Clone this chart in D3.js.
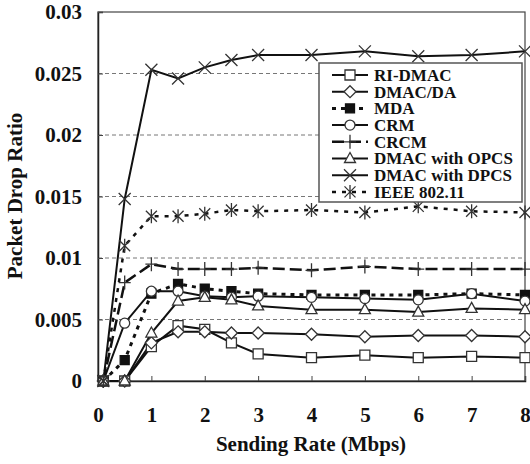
<!DOCTYPE html>
<html><head><meta charset="utf-8">
<script src="https://cdn.jsdelivr.net/npm/d3@7"></script>
<style>
body{margin:0;background:#fff}
svg{display:block}
</style>
</head><body><div id="chart"></div>
<script>
// sending rate (Mbps)
const rates = [0.1, 0.5, 1, 1.5, 2, 2.5, 3, 4, 5, 6, 7, 8];

// packet drop ratio per protocol
const riDmac = [0, 0, 0.0028, 0.0045, 0.0042, 0.0031, 0.0022, 0.0019, 0.0021, 0.0019, 0.0020, 0.0019];
const dmacDa = [0, 0, 0.0031, 0.0040, 0.0040, 0.0039, 0.0039, 0.0038, 0.0036, 0.0037, 0.0037, 0.0036];
const mda    = [0, 0.0017, 0.0071, 0.0079, 0.0075, 0.0073, 0.0071, 0.0070, 0.0070, 0.0070, 0.0071, 0.0070];
const crm    = [0, 0.0047, 0.0073, 0.0073, 0.0069, 0.0068, 0.0069, 0.0068, 0.0067, 0.0066, 0.0071, 0.0065];
const crcm   = [0, 0.0080, 0.0095, 0.0091, 0.0091, 0.0091, 0.0092, 0.0090, 0.0093, 0.0091, 0.0091, 0.0091];
const opcs   = [0, 0, 0.0039, 0.0065, 0.0068, 0.0066, 0.0061, 0.0058, 0.0058, 0.0056, 0.0059, 0.0058];
const dpcs   = [0, 0.0148, 0.0253, 0.0246, 0.0255, 0.0261, 0.0265, 0.0265, 0.0268, 0.0264, 0.0265, 0.0268];
const ieee   = [0, 0.0110, 0.0134, 0.0134, 0.0136, 0.0139, 0.0138, 0.0139, 0.0137, 0.0142, 0.0138, 0.0137];

const xTicks = [0, 1, 2, 3, 4, 5, 6, 7, 8];
const yTicks = [0, 0.005, 0.01, 0.015, 0.02, 0.025, 0.03];
const yTickLabels = ["0", "0.005", "0.01", "0.015", "0.02", "0.025", "0.03"];

const series = [
    {name: "RI-DMAC", values: riDmac, marker: "square", dash: null, lw: 2},
    {name: "DMAC/DA", values: dmacDa, marker: "diamond", dash: null, lw: 2},
    {name: "MDA", values: mda, marker: "fsquare", dash: "4,5", lw: 3},
    {name: "CRM", values: crm, marker: "circle", dash: null, lw: 2},
    {name: "CRCM", values: crcm, marker: "plus", dash: "12,5", lw: 2.5},
    {name: "DMAC with OPCS", values: opcs, marker: "triangle", dash: null, lw: 2},
    {name: "DMAC with DPCS", values: dpcs, marker: "x", dash: null, lw: 2},
    {name: "IEEE 802.11", values: ieee, marker: "asterisk", dash: "4,6", lw: 2.5}
];

const FONT = '"Liberation Serif"';

const w = 530, h = 464;
const margin = {top: 12, right: 5, bottom: 83, left: 98};
const iw = w - margin.left - margin.right;
const ih = h - margin.top - margin.bottom;

const x = d3.scaleLinear().domain([0, 8]).range([0, iw]);
const y = d3.scaleLinear().domain([0, 0.03]).range([ih, 0]);

const markerPath = {
    square: "M-5,-5h10v10h-10Z",
    fsquare: "M-4.5,-4.5h9v9h-9Z",
    diamond: "M0,-6L6,0L0,6L-6,0Z",
    triangle: "M0,-6L5.5,4L-5.5,4Z",
    x: "M-6,-6L6,6M-6,6L6,-6",
    plus: "M-6,0H6M0,-7V7",
    asterisk: "M-5.5,-5.5L5.5,5.5M-5.5,5.5L5.5,-5.5M0,-7V7"
};

const drawMarker = (sel, m) => {
    if (m === "circle") {
        sel.append("circle").attr("r", 5).attr("fill", "#fff").attr("stroke", "#333").attr("stroke-width", 1.3);
    } else {
        const filled = m === "fsquare";
        const open = ["square", "diamond", "triangle"].includes(m);
        sel.append("path").attr("d", markerPath[m])
            .attr("fill", filled ? "#111" : open ? "#fff" : "none")
            .attr("stroke", filled ? "#111" : "#333")
            .attr("stroke-width", 1.3);
    }
};

const styleText = (sel, size) => sel
    .style("font-family", FONT).style("font-weight", "bold")
    .style("font-size", size + "px").attr("fill", "#111");

const svg = d3.select("#chart").append("svg").attr("width", w).attr("height", h);
const g = svg.append("g").attr("transform", `translate(${margin.left},${margin.top})`);

// grid
g.append("g").selectAll("line")
    .data(yTicks.slice(1, -1))
    .enter().append("line")
    .attr("x1", 0).attr("x2", iw)
    .attr("y1", d => y(d)).attr("y2", d => y(d))
    .attr("stroke", "#777").attr("stroke-width", 1).attr("stroke-dasharray", "4,3");

// frame
g.append("rect").attr("width", iw).attr("height", ih)
    .attr("fill", "none").attr("stroke", "#444").attr("stroke-width", 1.2);

// axes with inward ticks
const xAxis = d3.axisBottom(x).tickValues(xTicks).tickSize(-5).tickPadding(26).tickFormat(d3.format("d"));
const yAxis = d3.axisLeft(y).tickValues(yTicks).tickSize(-5).tickPadding(16).tickFormat((d, i) => yTickLabels[i]);

g.append("g").attr("transform", `translate(0,${ih})`).call(xAxis)
    .call(a => a.select(".domain").attr("stroke", "#222").attr("stroke-width", 1.5))
    .call(a => a.selectAll(".tick line").attr("stroke", "#444"))
    .call(a => styleText(a.selectAll("text"), 21));
g.append("g").call(yAxis)
    .call(a => a.select(".domain").attr("stroke", "#222").attr("stroke-width", 1.5))
    .call(a => a.selectAll(".tick line").attr("stroke", "#444"))
    .call(a => styleText(a.selectAll("text"), 21));

// lines
const line = d3.line().x((d, i) => x(rates[i])).y(d => y(d));
series.forEach(s => {
    g.append("path").datum(s.values)
        .attr("d", line)
        .attr("fill", "none").attr("stroke", "#111")
        .attr("stroke-width", s.lw)
        .attr("stroke-dasharray", s.dash);
});
series.forEach(s => {
    g.append("g").selectAll("g")
        .data(s.values)
        .enter().append("g")
        .attr("transform", (d, i) => `translate(${x(rates[i])},${y(d)})`)
        .each(function () { drawMarker(d3.select(this), s.marker); });
});

// legend
const legend = svg.append("g").attr("transform", "translate(319,63)");
legend.append("rect").attr("width", 203).attr("height", 139)
    .attr("fill", "#fff").attr("stroke", "#555").attr("stroke-width", 1.5);
series.forEach((s, i) => {
    const row = legend.append("g").attr("transform", `translate(0,${12 + i * 16.7})`);
    row.append("line").attr("x1", 13).attr("x2", 49)
        .attr("stroke", "#111").attr("stroke-width", s.lw).attr("stroke-dasharray", s.dash);
    drawMarker(row.append("g").attr("transform", "translate(31,0)"), s.marker);
    styleText(row.append("text").attr("x", 55).attr("dy", "0.35em"), 17).text(s.name);
});

// axis titles
styleText(svg.append("text").attr("x", 311).attr("y", 451)
    .attr("text-anchor", "middle"), 21).text("Sending Rate (Mbps)");
styleText(svg.append("text").attr("transform", "translate(22,196) rotate(-90)")
    .attr("text-anchor", "middle"), 21).text("Packet Drop Ratio");
</script>
</body></html>
